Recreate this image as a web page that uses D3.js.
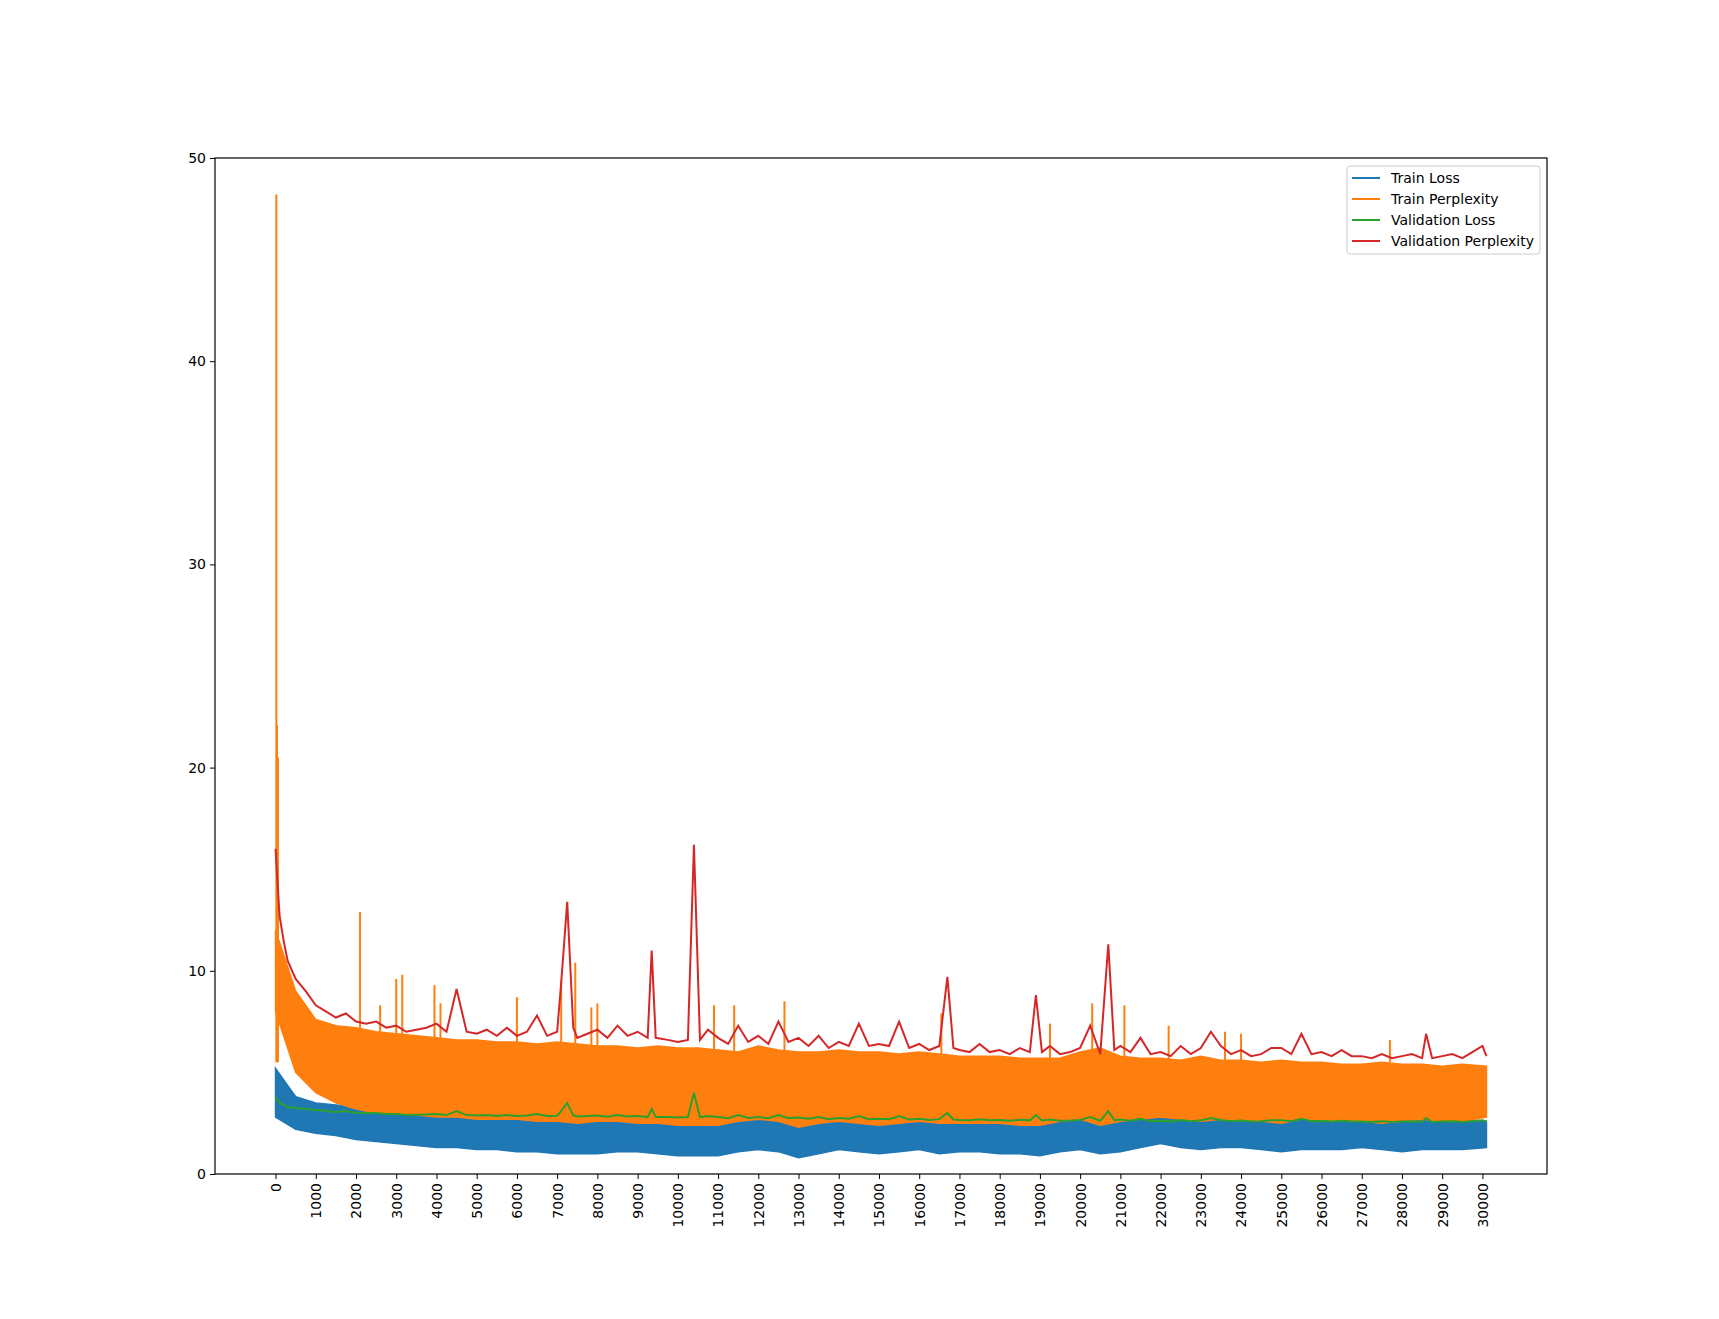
<!DOCTYPE html>
<html>
<head>
<meta charset="utf-8">
<script src="https://cdn.jsdelivr.net/npm/d3@7"></script>
<style>
  body { margin: 0; background: #fff; }
  text { font-family: "DejaVu Sans", sans-serif; }
</style>
</head>
<body>
<svg id="chart" width="1719" height="1319"></svg>
<script>
// steps for the envelope readings of the noisy train curves
const steps = [0,500,1000,1500,2000,2500,3000,3500,4000,4500,5000,5500,6000,6500,7000,7500,8000,8500,9000,9500,10000,
  10500,11000,11500,12000,12500,13000,13500,14000,14500,15000,15500,16000,16500,17000,17500,18000,18500,19000,19500,20000,
  20500,21000,21500,22000,22500,23000,23500,24000,24500,25000,25500,26000,26500,27000,27500,28000,28500,29000,29500,30100];

const trainLossHi = [5.2,3.8,3.5,3.4,3.3,3.3,3.2,3.2,3.1,3.1,3.0,3.0,3.0,3.0,3.0,2.9,2.9,2.9,2.9,3.0,2.9,
  2.9,2.9,2.8,3.0,2.9,2.9,2.9,3.0,2.9,2.9,2.8,3.0,2.9,2.8,2.8,2.9,2.8,2.8,2.8,3.2,
  3.3,3.0,2.9,2.9,2.8,2.9,2.8,2.8,2.8,2.8,2.7,2.8,2.7,2.7,2.8,2.8,2.7,2.7,2.7,2.6];
const trainLossLo = [2.8,2.2,2.0,1.9,1.7,1.6,1.5,1.4,1.3,1.3,1.2,1.2,1.1,1.1,1.0,1.0,1.0,1.1,1.1,1.0,0.9,
  0.9,0.9,1.1,1.2,1.1,0.8,1.0,1.2,1.1,1.0,1.1,1.2,1.0,1.1,1.1,1.0,1.0,0.9,1.1,1.2,
  1.0,1.1,1.3,1.5,1.3,1.2,1.3,1.3,1.2,1.1,1.2,1.2,1.2,1.3,1.2,1.1,1.2,1.2,1.2,1.3];

const trainPplHi = [12.0,9.0,7.6,7.3,7.2,7.0,6.9,6.8,6.7,6.6,6.6,6.5,6.5,6.4,6.5,6.4,6.3,6.3,6.2,6.3,6.2,
  6.2,6.1,6.0,6.3,6.1,6.0,6.0,6.1,6.0,6.0,5.9,6.0,5.9,5.8,5.8,5.8,5.7,5.7,5.7,6.0,
  6.2,5.8,5.7,5.7,5.6,5.8,5.6,5.6,5.5,5.6,5.5,5.5,5.4,5.4,5.5,5.4,5.4,5.3,5.4,5.3];
const trainPplLo = [8.0,5.0,4.0,3.5,3.2,3.0,3.0,2.9,2.8,2.8,2.7,2.7,2.7,2.6,2.6,2.5,2.6,2.6,2.5,2.5,2.4,
  2.4,2.4,2.6,2.7,2.6,2.3,2.5,2.6,2.5,2.4,2.5,2.6,2.5,2.5,2.5,2.5,2.4,2.4,2.6,2.7,
  2.4,2.6,2.7,2.8,2.7,2.6,2.7,2.7,2.6,2.5,2.7,2.7,2.6,2.6,2.5,2.6,2.7,2.6,2.6,2.8];

// isolated spikes of train perplexity [step, value]
const trainPplSpikes = [[20,48.2],[35,22.1],[60,20.5],[2100,12.9],[2600,8.3],[3000,9.6],[3150,9.8],[3950,9.3],[4100,8.4],
  [6000,8.7],[7100,9.5],[7450,10.4],[7850,8.2],[8000,8.4],[10900,8.3],[11400,8.3],[12650,8.5],[16550,7.9],
  [19250,7.4],[20300,8.4],[21100,8.3],[22200,7.3],[23600,7.0],[24000,6.9],[27700,6.6]];

const valSteps = [0,100,200,300,500,750,1000,1250,1500,1750,2000,2250,2500,2750,3000,3250,3500,3750,4000,4250,4500,4750,
  5000,5250,5500,5750,6000,6250,6500,6750,7000,7100,7250,7400,7500,7750,8000,8250,8500,8750,9000,9250,9350,9450,9750,
  10000,10250,10400,10550,10750,11000,11250,11500,11750,12000,12250,12500,12750,13000,13250,13500,13750,14000,14250,
  14500,14750,15000,15250,15500,15750,16000,16250,16500,16700,16850,17000,17250,17500,17750,18000,18250,18500,18750,
  18900,19050,19250,19500,19750,20000,20250,20500,20700,20850,21000,21250,21500,21750,22000,22250,22500,22750,23000,
  23250,23500,23750,24000,24250,24500,24750,25000,25250,25500,25750,26000,26250,26500,26750,27000,27250,27500,27750,
  28000,28250,28500,28600,28750,29000,29250,29500,29750,30000,30100];
const valPpl = [16.0,12.7,11.5,10.5,9.6,9.0,8.3,8.0,7.7,7.9,7.5,7.4,7.5,7.2,7.3,7.0,7.1,7.2,7.4,7.0,9.1,7.0,
  6.9,7.1,6.8,7.2,6.8,7.0,7.8,6.8,7.0,9.4,13.4,7.2,6.7,6.9,7.1,6.7,7.3,6.8,7.0,6.7,11.0,6.7,6.6,
  6.5,6.6,16.2,6.6,7.1,6.7,6.4,7.3,6.5,6.8,6.4,7.5,6.5,6.7,6.3,6.8,6.2,6.5,6.3,
  7.4,6.3,6.4,6.3,7.5,6.2,6.4,6.1,6.3,9.7,6.2,6.1,6.0,6.4,6.0,6.1,5.9,6.2,6.0,
  8.8,6.0,6.3,5.9,6.0,6.2,7.3,5.9,11.3,6.1,6.3,6.0,6.7,5.9,6.0,5.8,6.3,5.9,6.2,
  7.0,6.3,5.9,6.1,5.8,5.9,6.2,6.2,5.9,6.9,5.9,6.0,5.8,6.1,5.8,5.8,5.7,5.9,5.7,
  5.8,5.9,5.7,6.9,5.7,5.8,5.9,5.7,6.0,6.3,5.8];
const valLoss = [3.8,3.5,3.4,3.3,3.25,3.2,3.15,3.1,3.05,3.1,3.0,3.0,3.0,2.95,2.95,2.9,2.92,2.93,2.95,2.9,3.1,2.9,
  2.88,2.9,2.85,2.9,2.85,2.88,2.95,2.85,2.87,3.1,3.5,2.88,2.83,2.86,2.88,2.82,2.9,2.83,2.86,2.8,3.2,2.8,2.8,
  2.78,2.8,4.0,2.8,2.85,2.8,2.75,2.9,2.76,2.8,2.74,2.9,2.75,2.78,2.72,2.8,2.7,2.75,2.72,
  2.85,2.7,2.72,2.7,2.85,2.68,2.72,2.66,2.7,3.0,2.68,2.66,2.65,2.7,2.64,2.66,2.62,2.67,2.64,
  2.9,2.63,2.68,2.62,2.63,2.66,2.8,2.62,3.1,2.64,2.68,2.62,2.72,2.6,2.62,2.59,2.66,2.6,2.64,
  2.75,2.66,2.6,2.63,2.58,2.6,2.64,2.64,2.6,2.72,2.6,2.61,2.58,2.62,2.58,2.58,2.56,2.6,2.56,
  2.58,2.6,2.56,2.75,2.56,2.58,2.6,2.56,2.6,2.64,2.58];

const xTicks = d3.range(0, 30001, 1000);
const yTicks = [0, 10, 20, 30, 40, 50];
const legendNames = ["Train Loss", "Train Perplexity", "Validation Loss", "Validation Perplexity"];
const colors = ["#1f77b4", "#ff7f0e", "#2ca02c", "#d62728"];

const L = 215, R = 1547, T = 158, B = 1174;
const svg = d3.select("#chart");
const x = d3.scaleLinear().domain([-1505, 31605]).range([L, R]);
const y = d3.scaleLinear().domain([0, 50]).range([B, T]);

const g = svg.append("g");
const clip = svg.append("clipPath").attr("id", "clip").append("rect")
  .attr("x", L).attr("y", T).attr("width", R - L).attr("height", B - T);
g.attr("clip-path", "url(#clip)");

const band = (lo, hi) => d3.area().x((d, i) => x(steps[i])).y0((d, i) => y(lo[i])).y1((d, i) => y(hi[i]));
g.append("path").attr("d", band(trainLossLo, trainLossHi)(steps)).attr("fill", colors[0])
  .attr("stroke", colors[0]).attr("stroke-width", 1.5);
g.append("path").attr("d", band(trainPplLo, trainPplHi)(steps)).attr("fill", colors[1])
  .attr("stroke", colors[1]).attr("stroke-width", 1.5);
g.selectAll("line.spike").data(trainPplSpikes).enter().append("line")
  .attr("x1", d => x(d[0])).attr("x2", d => x(d[0]))
  .attr("y1", y(5.5)).attr("y2", d => y(d[1]))
  .attr("stroke", colors[1]).attr("stroke-width", 2);

const vline = vals => d3.line().x((d, i) => x(valSteps[i])).y((d, i) => y(vals[i]));
g.append("path").attr("d", vline(valLoss)(valSteps)).attr("fill", "none").attr("stroke", colors[2]).attr("stroke-width", 2);
g.append("path").attr("d", vline(valPpl)(valSteps)).attr("fill", "none").attr("stroke", colors[3]).attr("stroke-width", 2);

svg.append("rect").attr("x", L).attr("y", T).attr("width", R - L).attr("height", B - T)
  .attr("fill", "none").attr("stroke", "#000").attr("stroke-width", 1.2);

const xa = svg.append("g").attr("transform", `translate(0,${B})`)
  .call(d3.axisBottom(x).tickValues(xTicks).tickFormat(d3.format("d")).tickSize(5).tickSizeOuter(0));
xa.select(".domain").remove();
xa.selectAll("text").attr("transform", "rotate(-90)").attr("text-anchor", "end")
  .attr("x", -9).attr("y", 0).attr("dy", "0.35em").attr("font-size", 14).attr("fill", "#000");

const ya = svg.append("g").attr("transform", `translate(${L},0)`)
  .call(d3.axisLeft(y).tickValues(yTicks).tickSize(5).tickSizeOuter(0));
ya.select(".domain").remove();
ya.selectAll("text").attr("font-size", 14).attr("fill", "#000").attr("x", -9);

const lg = svg.append("g").attr("transform", "translate(1347,166)");
lg.append("rect").attr("width", 193).attr("height", 88).attr("rx", 3)
  .attr("fill", "#fff").attr("fill-opacity", 0.8).attr("stroke", "#ccc");
legendNames.forEach((n, i) => {
  const yy = 12 + i * 21;
  lg.append("line").attr("x1", 5).attr("x2", 33).attr("y1", yy).attr("y2", yy)
    .attr("stroke", colors[i]).attr("stroke-width", 2);
  lg.append("text").attr("x", 44).attr("y", yy).attr("dy", "0.35em")
    .attr("font-size", 14).text(n);
});
</script>
</body>
</html>
